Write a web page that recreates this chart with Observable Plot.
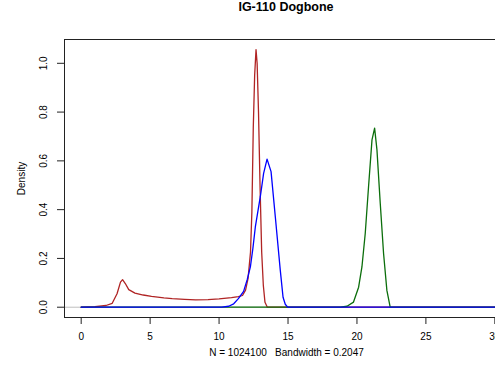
<!DOCTYPE html>
<html><head><meta charset="utf-8">
<script src="https://cdn.jsdelivr.net/npm/d3@7"></script>
<script src="https://cdn.jsdelivr.net/npm/@observablehq/plot@0.6"></script>
<style>
html,body{margin:0;padding:0;background:#fff;overflow:hidden;width:495px;height:371px;}
#wrap{position:relative;width:508px;}
#title{height:30px;line-height:30px;padding-left:64px;width:444px;text-align:center;font:bold 12.5px "Liberation Sans",Arial,sans-serif;color:#000;}
svg text{white-space:pre;}
</style></head><body>
<div id="wrap"><div id="title"></div><div id="chart"></div></div>
<script>
const title = "IG-110 Dogbone";
const xLabel = "N = 1024100   Bandwidth = 0.2047";
const yLabel = "Density";
const xTicks = [0, 5, 10, 15, 20, 25, 30];
const yTicks = [0, 0.2, 0.4, 0.6, 0.8, 1.0];

// series 1 (brown)
const redX = [0, 1.0, 1.8, 2.25, 2.6, 2.85, 3.0, 3.2, 3.45, 3.9, 4.5, 5.1, 6.0, 6.6, 7.5, 8.3, 9.2, 10.0, 10.9, 11.4, 11.7, 11.92, 12.1, 12.28, 12.38, 12.48, 12.58, 12.68, 12.76, 12.86, 12.97, 13.09, 13.21, 13.33, 13.5, 14, 30];
const redY = [0, 0.002, 0.007, 0.016, 0.055, 0.103, 0.113, 0.097, 0.072, 0.058, 0.050, 0.044, 0.038, 0.035, 0.032, 0.030, 0.031, 0.034, 0.039, 0.043, 0.048, 0.07, 0.117, 0.226, 0.391, 0.734, 0.95, 1.056, 1.0, 0.80, 0.50, 0.226, 0.089, 0.02, 0, 0, 0];
// series 2 (green)
const greenX = [0, 18.8, 19.28, 19.75, 20.12, 20.36, 20.6, 20.84, 21.09, 21.28, 21.45, 21.69, 21.93, 22.17, 22.41, 30];
const greenY = [0, 0, 0.004, 0.021, 0.082, 0.165, 0.302, 0.494, 0.686, 0.734, 0.645, 0.425, 0.22, 0.069, 0, 0];
// series 3 (blue)
const blueX = [0, 10.2, 10.7, 11.06, 11.4, 11.78, 12.05, 12.27, 12.45, 12.63, 12.99, 13.23, 13.48, 13.77, 14.08, 14.44, 14.64, 14.8, 14.97, 30];
const blueY = [0, 0, 0.004, 0.014, 0.035, 0.065, 0.115, 0.165, 0.24, 0.329, 0.453, 0.549, 0.607, 0.556, 0.37, 0.151, 0.041, 0.012, 0, 0];

const seriesColors = {red: "#b02424", green: "#0b6e0b", blue: "#0000ff"};
const toRows = (xs, ys) => xs.map((x, i) => ({x, y: ys[i]}));
const red = toRows(redX, redY), green = toRows(greenX, greenY), blue = toRows(blueX, blueY);

document.getElementById("title").textContent = title;

const chart = Plot.plot({
  width: 508,
  height: 341,
  marginLeft: 64,
  marginRight: 0,
  marginTop: 9,
  marginBottom: 54,
  style: {fontFamily: "'Liberation Sans', Arial, sans-serif", fontSize: "10px", color: "#000", background: "#fff"},
  x: {domain: [-1.21, 30.99]},
  y: {domain: [-0.0422, 1.0976]},
  marks: [
    Plot.ruleY([0], {stroke: "#bebebe", strokeWidth: 1}),
    Plot.line(red, {x: "x", y: "y", stroke: seriesColors.red, strokeWidth: 1.3}),
    Plot.line(green, {x: "x", y: "y", stroke: seriesColors.green, strokeWidth: 1.3}),
    Plot.line(blue, {x: "x", y: "y", stroke: seriesColors.blue, strokeWidth: 1.3}),
    Plot.frame({stroke: "#222"}),
    Plot.axisX({ticks: xTicks, tickSize: 7, tickPadding: 8, tickFormat: d3.format("d"), label: xLabel, labelAnchor: "center", labelArrow: false, labelOffset: 38, stroke: "#222"}),
    Plot.axisY({ticks: yTicks, tickSize: 7, tickPadding: 11, tickRotate: -90, tickFormat: d3.format(".1f"), label: yLabel, labelAnchor: "center", labelArrow: false, labelOffset: 47, stroke: "#222"})
  ]
});
document.getElementById("chart").appendChild(chart);
</script>
</body></html>
